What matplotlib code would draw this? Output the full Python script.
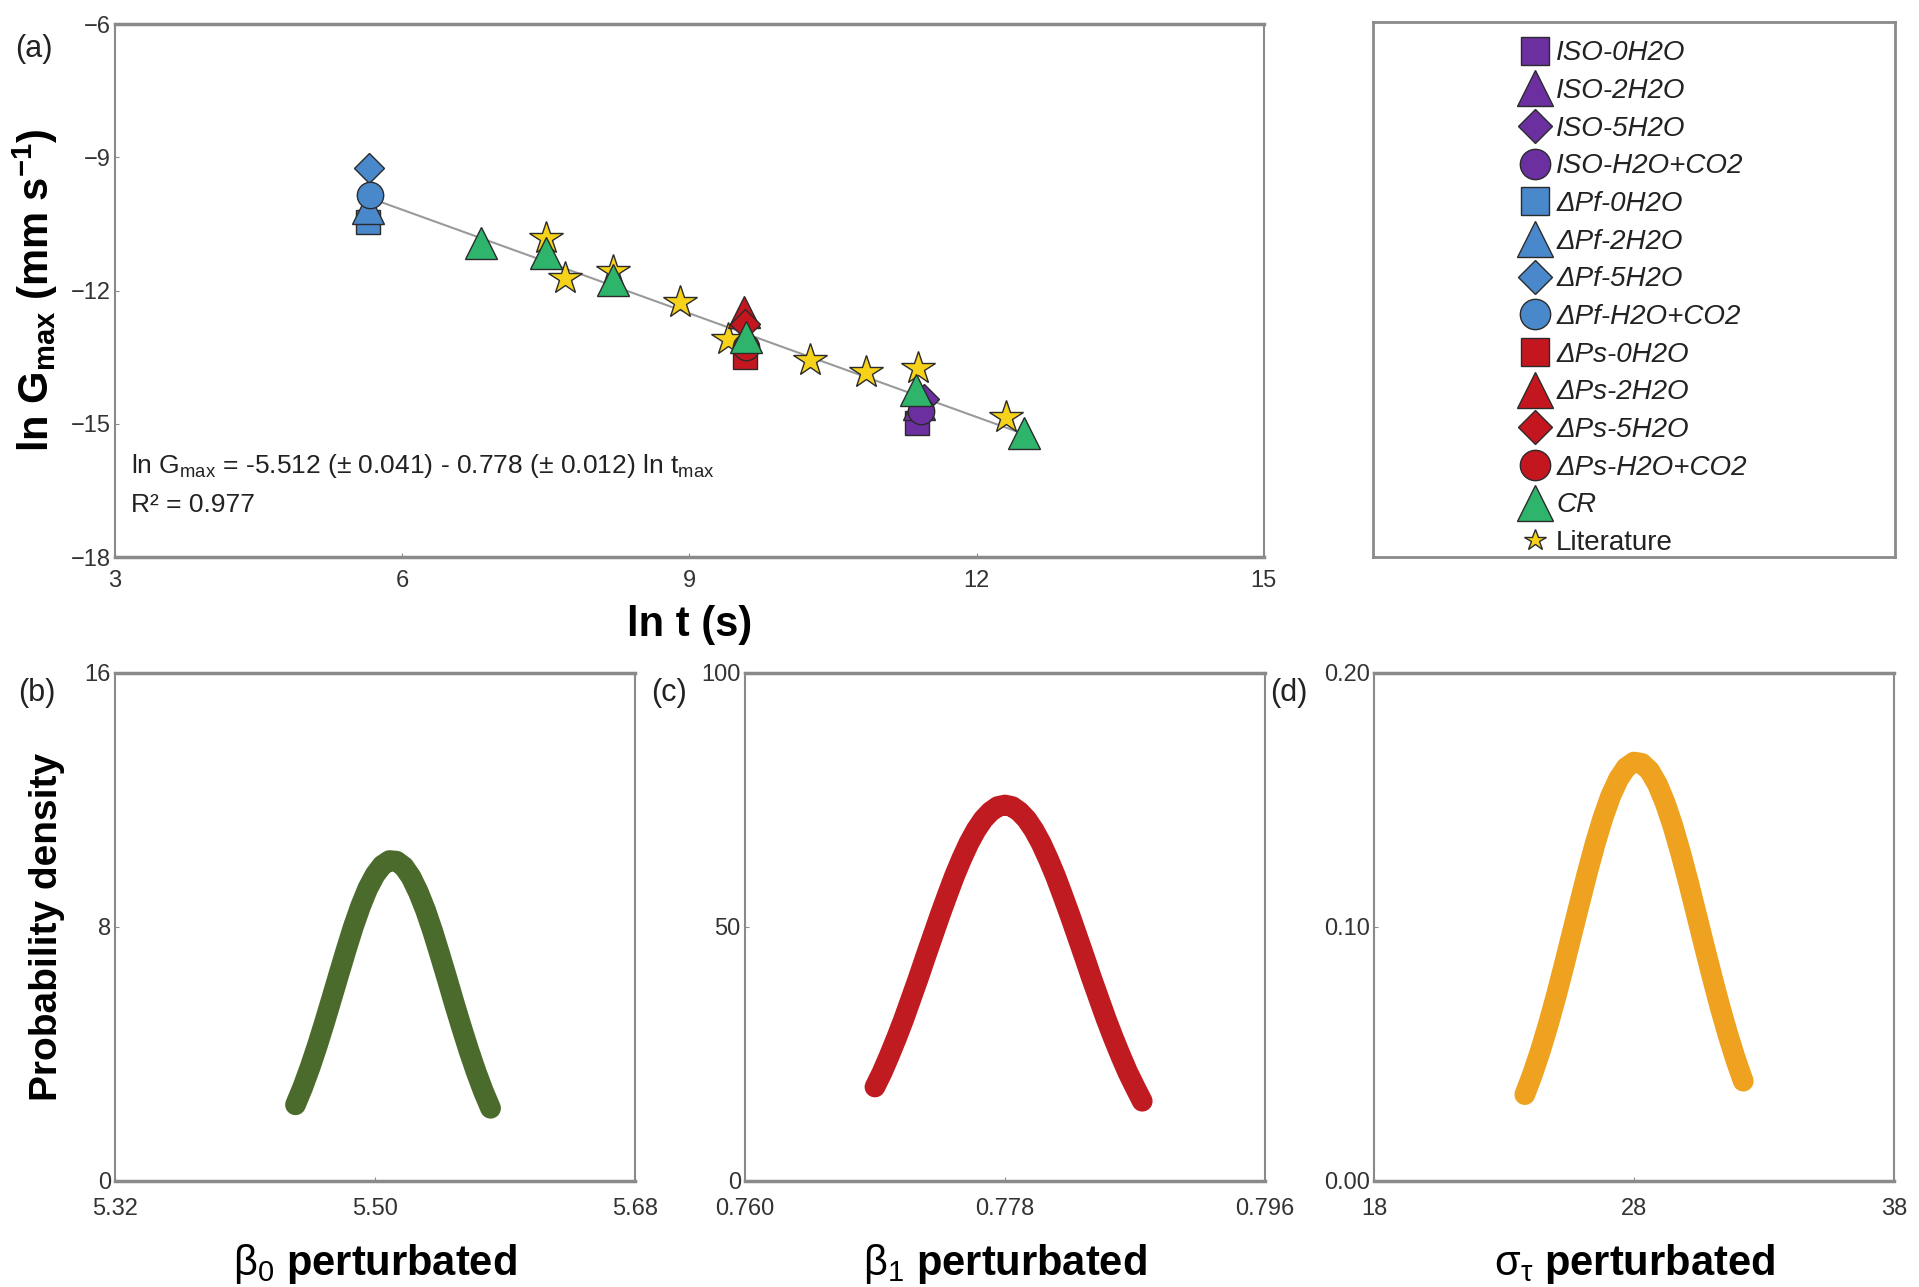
import matplotlib
matplotlib.use("Agg")
import matplotlib.pyplot as plt
from matplotlib.lines import Line2D
import numpy as np

plt.rcParams['font.family'] = ['Liberation Sans', 'DejaVu Sans']
plt.rcParams['mathtext.fontset'] = 'custom'
plt.rcParams['mathtext.rm'] = 'Liberation Sans'
plt.rcParams['mathtext.it'] = 'Liberation Sans:italic'
plt.rcParams['mathtext.bf'] = 'Liberation Sans:bold'

# ---- panel (a) data: ln t vs ln Gmax ----
iso_x = [11.38, 11.40, 11.45, 11.42]
iso_y = [-14.98, -14.55, -14.45, -14.72]
pf_x = [5.64, 5.64, 5.65, 5.66]
pf_y = [-10.45, -10.15, -9.25, -9.85]
ps_x = [9.58, 9.57, 9.58, 9.59]
ps_y = [-13.50, -12.48, -12.75, -13.27]
cr_x = [6.82, 7.50, 8.20, 9.59, 11.37, 12.50]
cr_y = [-10.93, -11.16, -11.77, -13.05, -14.24, -15.21]
lit_x = [7.50, 7.70, 8.20, 8.90, 9.40, 10.26, 10.84, 11.39, 12.31]
lit_y = [-10.82, -11.72, -11.55, -12.26, -13.08, -13.56, -13.83, -13.74, -14.85]
conditions = ['0H2O', '2H2O', '5H2O', 'H2O+CO2']
markers = ['s', '^', 'D', 'o']
fit_b0 = -5.512
fit_b1 = -0.778

# ---- panels (b)-(d): density curves ----
b0_x = [5.445, 5.450, 5.455, 5.460, 5.465, 5.470, 5.475, 5.480, 5.485,
        5.490, 5.495, 5.500, 5.505, 5.510, 5.515, 5.520, 5.525, 5.530,
        5.535, 5.540, 5.545, 5.550, 5.555, 5.560, 5.565, 5.570, 5.575,
        5.580]
b0_y = [2.40, 2.95, 3.57, 4.25, 4.98, 5.74, 6.51, 7.27, 8.00, 8.65, 9.21,
        9.64, 9.94, 10.09, 10.07, 9.90, 9.57, 9.10, 8.53, 7.86, 7.12, 6.36,
        5.58, 4.83, 4.11, 3.44, 2.83, 2.29]
b1_x = [0.7690, 0.7695, 0.7700, 0.7705, 0.7710, 0.7715, 0.7720, 0.7725,
        0.7730, 0.7735, 0.7740, 0.7745, 0.7750, 0.7755, 0.7760, 0.7765,
        0.7770, 0.7775, 0.7780, 0.7785, 0.7790, 0.7795, 0.7800, 0.7805,
        0.7810, 0.7815, 0.7820, 0.7825, 0.7830, 0.7835, 0.7840, 0.7845,
        0.7850, 0.7855, 0.7860, 0.7865, 0.7870, 0.7875]
b1_y = [18.5, 21.4, 24.7, 28.2, 31.9, 35.9, 39.9, 44.1, 48.2, 52.3, 56.2,
        60.0, 63.4, 66.5, 69.1, 71.2, 72.7, 73.7, 74.0, 73.7, 72.7, 71.2,
        69.1, 66.5, 63.4, 60.0, 56.2, 52.3, 48.2, 44.1, 39.9, 35.9, 31.9,
        28.2, 24.7, 21.4, 18.5, 15.7]
sg_x = [23.8, 24.1, 24.4, 24.7, 25.0, 25.3, 25.6, 25.9, 26.2, 26.5, 26.8,
        27.1, 27.4, 27.7, 28.0, 28.3, 28.6, 28.9, 29.2, 29.5, 29.8, 30.1,
        30.4, 30.7, 31.0, 31.3, 31.6, 31.9, 32.2]
sg_y = [0.0340, 0.0421, 0.0513, 0.0615, 0.0726, 0.0845, 0.0968, 0.1091,
        0.1212, 0.1326, 0.1428, 0.1515, 0.1582, 0.1628, 0.1649, 0.1644,
        0.1615, 0.1562, 0.1488, 0.1396, 0.1289, 0.1173, 0.1050, 0.0926,
        0.0805, 0.0688, 0.0580, 0.0481, 0.0393]

PURPLE = '#6b2fa0'
BLUE = '#4a88cc'
RED = '#c4161f'
GREEN = '#2fb46c'
YELLOW = '#f6d21a'
EDGE = '#2b2b2b'
SPINE = '#8a8a8a'
msize = {'s': 17, '^': 23, 'D': 15, 'o': 19}

fig = plt.figure(figsize=(19.19, 12.87), dpi=100)


def style_axes(ax, xpad):
    for s in ax.spines.values():
        s.set_color(SPINE)
        s.set_linewidth(1.5)
    ax.spines['top'].set_linewidth(2.5)
    ax.spines['bottom'].set_linewidth(2.5)
    ax.tick_params(direction='in', length=3, color=SPINE, labelsize=17,
                   labelcolor='#333333', pad=3)
    ax.tick_params(axis='x', pad=xpad)


# ---- (a) ----
ax = fig.add_axes([0.0599, 0.5672, 0.5987, 0.4141])
style_axes(ax, 9)
handles = []
allx = iso_x + pf_x + ps_x + cr_x + lit_x
xs = np.array([min(allx), max(allx)])
ax.plot(xs, fit_b0 + fit_b1 * xs, color='#9a9a9a', lw=1.5, zorder=1)
ax.plot(lit_x, lit_y, ls='none', marker='*', ms=25, mfc=YELLOW, mec=EDGE,
        mew=1, zorder=2)
for prefix, gx, gy, col in [('ISO-', iso_x, iso_y, PURPLE),
                            ('\u0394Pf-', pf_x, pf_y, BLUE),
                            ('\u0394Ps-', ps_x, ps_y, RED)]:
    for i, cond in enumerate(conditions):
        h, = ax.plot([gx[i]], [gy[i]], ls='none', marker=markers[i],
                     ms=msize[markers[i]], mfc=col, mec=EDGE, mew=1,
                     label=prefix + cond, zorder=3)
        handles.append(h)
h, = ax.plot(cr_x, cr_y, ls='none', marker='^', ms=23, mfc=GREEN, mec=EDGE,
             mew=1, label='CR', zorder=4)
handles.append(h)
handles.append(Line2D([], [], ls='none', marker='*', ms=14, mfc=YELLOW,
                      mec=EDGE, mew=1, label='Literature'))

ax.set_xlim(3, 15)
ax.set_ylim(-18, -6)
ax.set_xticks([3, 6, 9, 12, 15])
ax.set_yticks([-18, -15, -12, -9, -6])
ax.set_xlabel('ln t (s)', fontsize=30, fontweight='bold', labelpad=10)
ax.set_ylabel(r'ln G$_{\mathbf{max}}$ (mm s$^{\mathbf{-1}}$)', fontsize=30,
              fontweight='bold', labelpad=8)
ax.text(0.014, 0.171,
        r'ln G$_{\mathrm{max}}$ = -5.512 ($\pm$ 0.041) - 0.778 ($\pm$ 0.012) ln t$_{\mathrm{max}}$',
        transform=ax.transAxes, fontsize=19, va='center', color='#222222')
ax.text(0.014, 0.098, 'R\u00b2 = 0.977', transform=ax.transAxes, fontsize=19,
        va='center', color='#222222')

# ---- legend panel ----
axl = fig.add_axes([0.7155, 0.5672, 0.2720, 0.4157])
for s in axl.spines.values():
    s.set_color(SPINE)
    s.set_linewidth(2)
axl.set_xticks([])
axl.set_yticks([])
leg = axl.legend(handles=handles, loc='center', bbox_to_anchor=(0.5, 0.484),
                 frameon=False, fontsize=20, handlelength=1.0,
                 handletextpad=0.25, labelspacing=0.42, borderaxespad=0.2,
                 markerscale=1.15)
for t in leg.get_texts():
    if t.get_text() != 'Literature':
        t.set_style('italic')
    t.set_color('#222222')

# ---- (b)-(d) ----
bottom_specs = [
    (0.0599, b0_x, b0_y, '#4b6b2c', (5.32, 5.68), [5.32, 5.50, 5.68],
     ['5.32', '5.50', '5.68'], (0, 16), [0, 8, 16], ['0', '8', '16'],
     r'$\mathrm{\beta_0}$ perturbated'),
    (0.3882, b1_x, b1_y, '#c11b22', (0.760, 0.796), [0.760, 0.778, 0.796],
     ['0.760', '0.778', '0.796'], (0, 100), [0, 50, 100], ['0', '50', '100'],
     r'$\mathrm{\beta_1}$ perturbated'),
    (0.7160, sg_x, sg_y, '#efa21f', (18, 38), [18, 28, 38],
     ['18', '28', '38'], (0, 0.20), [0, 0.10, 0.20],
     ['0.00', '0.10', '0.20'], r'$\mathrm{\sigma_\tau}$ perturbated'),
]
for i, (left, cx, cy, col, xl, xt, xtl, yl, yt, ytl, lab) in enumerate(bottom_specs):
    bx = fig.add_axes([left, 0.0824, 0.2710, 0.3947])
    style_axes(bx, 12)
    bx.plot(cx, cy, color=col, lw=15, solid_capstyle='round',
            solid_joinstyle='round')
    bx.set_xlim(*xl)
    bx.set_ylim(*yl)
    bx.set_xticks(xt)
    bx.set_xticklabels(xtl)
    bx.set_yticks(yt)
    bx.set_yticklabels(ytl)
    bx.set_xlabel(lab, fontsize=30, fontweight='bold', labelpad=16)
    if i == 0:
        bx.set_ylabel('Probability density', fontsize=28, fontweight='bold',
                      labelpad=14)

for lbl, x, y in [('(a)', 0.0177, 0.962), ('(b)', 0.019, 0.4615),
                  ('(c)', 0.3488, 0.4615), ('(d)', 0.6717, 0.4615)]:
    fig.text(x, y, lbl, fontsize=22, ha='center', va='center',
             color='#222222')

fig.savefig('out.png', dpi=100)
